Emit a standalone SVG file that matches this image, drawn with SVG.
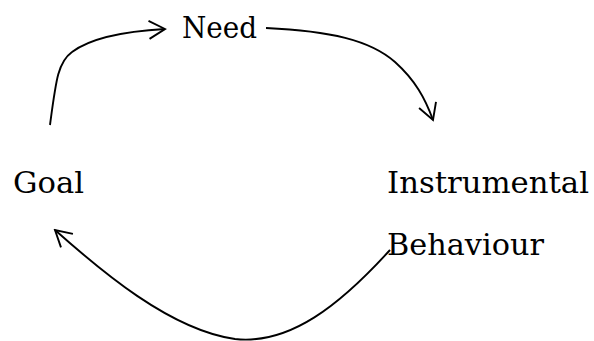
<svg xmlns="http://www.w3.org/2000/svg" width="594" height="341" viewBox="0 0 594 341">
<defs>
<style>
text{font-family:"DejaVu Serif","Liberation Serif",serif;font-size:30px;fill:#000}
.c{fill:none;stroke:#000;stroke-width:1.9}
</style>
<marker id="a" viewBox="-18 -11 20 22" markerWidth="20" markerHeight="22" refX="0" refY="0" orient="auto" markerUnits="userSpaceOnUse">
<path d="M-16,-9 L0,0 L-16,9" fill="none" stroke="#000" stroke-width="1.9"/>
</marker>
</defs>
<rect width="594" height="341" fill="#fff"/>
<g id="need"><text x="182" y="38" textLength="75" lengthAdjust="spacingAndGlyphs">Need</text></g>
<g id="goal"><text x="13" y="193" textLength="71" lengthAdjust="spacingAndGlyphs">Goal</text></g>
<g id="instrumental"><text x="387" y="193" textLength="202" lengthAdjust="spacingAndGlyphs">Instrumental</text><text x="387" y="255" textLength="157" lengthAdjust="spacingAndGlyphs">Behaviour</text></g>
<g id="connectors">
<path class="c" d="M50,125 C56,80 58,62 72,52 C92,37 130,31 165,29" marker-end="url(#a)"/>
<path class="c" d="M266,28 C330,31 370,40 395,62 C415,80 425,98 433,120" marker-end="url(#a)"/>
<path class="c" d="M390,250 C340,305 290,345 235,339 C170,330 100,270 55,230" marker-end="url(#a)"/>
</g>
</svg>
